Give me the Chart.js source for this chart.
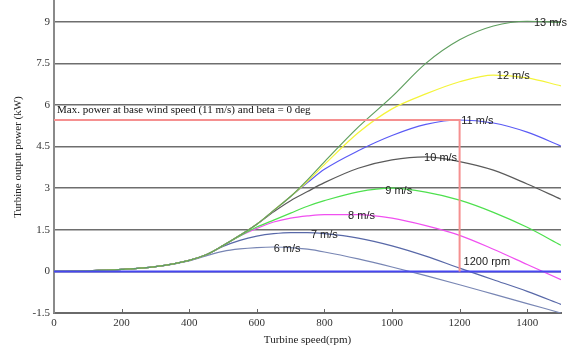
<!DOCTYPE html>
<html><head><meta charset="utf-8">
<script src="https://cdn.jsdelivr.net/npm/chart.js@4/dist/chart.umd.min.js"></script>
<style>html,body{margin:0;padding:0;background:#fff}#wrap{width:574px;height:347px}</style>
</head><body><div id="wrap"><canvas id="c" width="574" height="347"></canvas></div>
<script>
const rpm = [0,100,200,300,400,450,500,550,600,650,700,750,800,900,1000,1100,1200,1300,1400,1500];
const p13 = [0,0.02,0.07,0.17,0.4,0.6,0.93,1.3,1.7,2.2,2.7,3.3,3.95,5.2,6.3,7.5,8.35,8.85,9.02,8.98];
const p12 = [0,0.02,0.07,0.17,0.4,0.6,0.93,1.3,1.7,2.2,2.7,3.25,3.85,5.0,5.86,6.4,6.84,7.08,6.98,6.69];
const p11 = [0,0.02,0.07,0.17,0.4,0.6,0.93,1.3,1.7,2.2,2.7,3.2,3.68,4.35,4.9,5.3,5.46,5.35,5.02,4.52];
const p10 = [0,0.02,0.07,0.17,0.4,0.6,0.93,1.3,1.7,2.15,2.55,2.88,3.2,3.72,4.02,4.13,3.96,3.65,3.15,2.6];
const p9  = [0,0.02,0.07,0.17,0.4,0.6,0.93,1.28,1.6,1.85,2.1,2.35,2.55,2.87,3.0,2.86,2.57,2.13,1.59,0.94];
const p8  = [0,0.02,0.07,0.17,0.4,0.6,0.93,1.28,1.55,1.78,1.92,2.0,2.05,2.05,1.92,1.65,1.3,0.8,0.25,-0.3];
const p7  = [0,0.02,0.07,0.17,0.4,0.6,0.9,1.12,1.27,1.36,1.4,1.4,1.36,1.2,0.92,0.55,0.12,-0.3,-0.72,-1.19];
const p6  = [0,0.02,0.07,0.17,0.38,0.56,0.72,0.81,0.86,0.88,0.86,0.8,0.7,0.45,0.16,-0.15,-0.48,-0.82,-1.16,-1.5];
const windLabels = ['13 m/s','12 m/s','11 m/s','10 m/s','9 m/s','8 m/s','7 m/s','6 m/s'];
const labelRpm = [1420,1310,1205,1095,980,870,760,650];
const labelKw  = [9.0,7.08,5.46,4.12,2.95,2.05,1.35,0.85];
const maxPowerKw = 5.46;
const baseRpm = 1200;
const yTicks = [-1.5,0,1.5,3,4.5,6,7.5,9];
const xTicks = [0,200,400,600,800,1000,1200,1400];
const noteText = 'Max. power at base wind speed (11 m/s) and beta = 0 deg';
const rpmText = '1200 rpm';

const series = [p13,p12,p11,p10,p9,p8,p7,p6];
const colors = ['#5f9f5f','#f4f43a','#5a5af5','#5a5a5a','#4ee04e','#f050f0','#5868a8','#7886b4'];
const toXY = arr => arr.map((v,i)=>({x:rpm[i],y:v}));
const datasets = series.map((s,i)=>({label:windLabels[i],data:toXY(s),borderColor:colors[i],borderWidth:1.2,pointRadius:0,cubicInterpolationMode:'monotone',fill:false}));
datasets.push({label:'zero',data:[{x:0,y:0},{x:1500,y:0}],borderColor:'#4646f0',borderWidth:2,pointRadius:0,order:-1});
datasets.push({label:'max',data:[{x:0,y:maxPowerKw},{x:baseRpm,y:maxPowerKw},{x:baseRpm,y:0}],borderColor:'#f59090',borderWidth:2,pointRadius:0,tension:0,order:-2});

const overlay = {
  id:'overlay',
  afterDatasetsDraw(chart){
    const ctx = chart.ctx, xs = chart.scales.x, ys = chart.scales.y;
    ctx.save();
    ctx.strokeStyle = '#666'; ctx.lineWidth = 1;
    xTicks.forEach(v=>{ if(v===0) return; const px = Math.round(xs.getPixelForValue(v))+0.5; const py = ys.getPixelForValue(-1.5);
      ctx.beginPath(); ctx.moveTo(px,py); ctx.lineTo(px,py-4); ctx.stroke(); });
    ctx.fillStyle = '#222';
    ctx.font = '11px "Liberation Sans", Arial, sans-serif';
    ctx.textBaseline = 'middle'; ctx.textAlign = 'left';
    windLabels.forEach((t,i)=>{ ctx.fillText(t, xs.getPixelForValue(labelRpm[i]), ys.getPixelForValue(labelKw[i])+1); });
    ctx.fillText(rpmText, xs.getPixelForValue(baseRpm)+4, ys.getPixelForValue(0)-9);
    ctx.font = '11px "Liberation Serif", "Times New Roman", serif';
    ctx.fillStyle = '#111';
    ctx.fillText(noteText, xs.getPixelForValue(0)+3, ys.getPixelForValue(maxPowerKw)-10);
    ctx.restore();
  }
};

new Chart(document.getElementById('c'),{
  type:'line',
  data:{datasets},
  options:{
    responsive:false, animation:false,
    layout:{padding:{left:0,right:13,top:1,bottom:0}},
    plugins:{legend:{display:false},tooltip:{enabled:false}},
    scales:{
      x:{type:'linear',min:0,max:1500,
        afterBuildTicks(s){ s.ticks = xTicks.map(v=>({value:v})); },
        afterFit(s){ s.height = 34; s.paddingLeft = 0; s.paddingRight = 0; },
        grid:{display:false,drawTicks:false},
        border:{display:true,color:'#6a6a6a',width:2},
        ticks:{padding:4,font:{family:'"Liberation Serif", "Times New Roman", serif',size:11},color:'#333',maxRotation:0,autoSkip:false,callback:v=>String(v)},
        title:{display:true,text:'Turbine speed(rpm)',font:{family:'"Liberation Serif", "Times New Roman", serif',size:11},color:'#222',padding:{top:1,bottom:0}}
      },
      y:{type:'linear',min:-1.5,max:9.75,
        afterBuildTicks(s){ s.ticks = yTicks.map(v=>({value:v})); },
        afterFit(s){ s.width = 54; s.paddingTop = 0; s.paddingBottom = 0; },
        grid:{color:'#6e6e6e',lineWidth:1.5,drawTicks:false},
        border:{display:true,color:'#8a8a8a',width:2},
        ticks:{padding:4,font:{family:'"Liberation Serif", "Times New Roman", serif',size:11},color:'#333',autoSkip:false,callback:v=>String(v)},
        title:{display:true,text:'Turbine output power (kW)',font:{family:'"Liberation Serif", "Times New Roman", serif',size:11},color:'#222',padding:{top:12,bottom:0}}
      }
    }
  },
  plugins:[overlay]
});
</script></body></html>
